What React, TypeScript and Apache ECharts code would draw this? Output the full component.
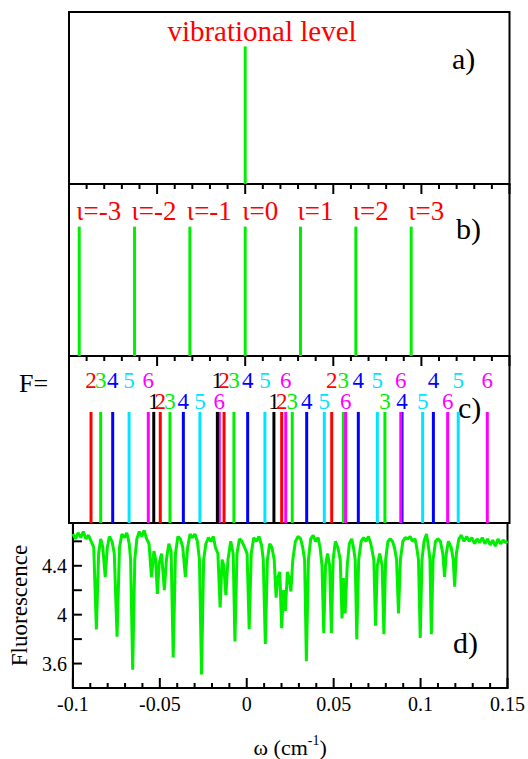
import React, { useEffect, useRef } from "react";
import * as echarts from "echarts";

// ---------- data ----------
const vibrationalLevel = [0];

const iotaPositions = [-0.0942, -0.0628, -0.0314, 0, 0.0314, 0.0628, 0.0942];
const iotaLabels = ["ι=-3", "ι=-2", "ι=-1", "ι=0", "ι=1", "ι=2", "ι=3"];

// F components (panel c): positions and label rows
const fBlack = [-0.0519, -0.0158, 0.0163];
const fBlackRows = [2, 1, 2];
const fRed = [-0.0875, -0.0482, -0.012, 0.0207, 0.0491];
const fRedRows = [1, 2, 1, 2, 1];
const fGreen = [-0.082, -0.0427, -0.0064, 0.0267, 0.0557, 0.0793];
const fGreenRows = [1, 2, 1, 2, 1, 2];
const fBlue = [-0.0752, -0.0351, 0.0014, 0.0349, 0.0642, 0.089, 0.1068];
const fBlueRows = [1, 2, 1, 2, 1, 2, 1];
const fCyan = [-0.0659, -0.0257, 0.0112, 0.0449, 0.075, 0.1007, 0.1209];
const fCyanRows = [1, 2, 1, 2, 1, 2, 1];
const fMagenta = [-0.055, -0.0147, 0.023, 0.057, 0.0883, 0.1149, 0.1374];
const fMagentaRows = [1, 2, 1, 2, 1, 2, 1];

// Fluorescence spectrum (panel d): [ω, fluorescence]
const spectrum: [number, number][] = [
  [-0.1, 4.66], [-0.0985, 4.62], [-0.097, 4.67], [-0.0955, 4.63], [-0.094, 4.68], [-0.0925, 4.62],
  [-0.091, 4.65], [-0.0895, 4.6], [-0.088, 4.55], [-0.0865, 3.88], [-0.0852, 4.5], [-0.084, 4.62],
  [-0.0828, 4.55], [-0.0814, 4.31], [-0.0802, 4.55], [-0.079, 4.64], [-0.0775, 4.6], [-0.0762, 4.5],
  [-0.0746, 3.82], [-0.0732, 4.55], [-0.0718, 4.66], [-0.0703, 4.63], [-0.069, 4.67], [-0.0676, 4.58],
  [-0.0668, 4.45], [-0.0656, 3.55], [-0.0644, 4.45], [-0.0632, 4.62], [-0.0618, 4.68], [-0.0604, 4.64],
  [-0.059, 4.69], [-0.0576, 4.62], [-0.0562, 4.58], [-0.0548, 4.31], [-0.0534, 4.52], [-0.0524, 4.45],
  [-0.0514, 4.17], [-0.0504, 4.42], [-0.049, 4.5], [-0.0474, 4.2], [-0.0462, 4.45], [-0.0448, 4.58],
  [-0.0435, 4.52], [-0.0423, 3.65], [-0.041, 4.5], [-0.0396, 4.64], [-0.0382, 4.62], [-0.0368, 4.55],
  [-0.0353, 4.31], [-0.034, 4.55], [-0.0326, 4.66], [-0.0312, 4.63], [-0.0298, 4.66], [-0.0284, 4.6],
  [-0.0272, 4.45], [-0.026, 3.51], [-0.0248, 4.45], [-0.0235, 4.58], [-0.022, 4.63], [-0.0206, 4.6],
  [-0.0192, 4.64], [-0.018, 4.55], [-0.0166, 4.5], [-0.0153, 4.06], [-0.0142, 4.45], [-0.0132, 4.4],
  [-0.012, 4.16], [-0.0108, 4.45], [-0.0092, 4.6], [-0.0078, 4.5], [-0.0068, 3.78], [-0.0056, 4.5],
  [-0.0042, 4.62], [-0.0028, 4.6], [-0.0012, 4.55], [0.0002, 4.5], [0.0014, 3.88], [0.0026, 4.5],
  [0.004, 4.63], [0.0055, 4.6], [0.007, 4.64], [0.0085, 4.57], [0.0095, 4.45], [0.0107, 3.76],
  [0.0119, 4.45], [0.0132, 4.58], [0.0145, 4.55], [0.0158, 4.45], [0.0169, 4.14], [0.0178, 4.3],
  [0.019, 4.35], [0.0201, 3.89], [0.0211, 4.2], [0.0222, 4.03], [0.0234, 4.35], [0.0244, 4.3],
  [0.0254, 4.19], [0.0265, 4.45], [0.028, 4.6], [0.0295, 4.64], [0.031, 4.62], [0.0322, 4.55],
  [0.0333, 4.45], [0.0343, 3.62], [0.0355, 4.45], [0.0368, 4.62], [0.0382, 4.65], [0.0396, 4.6],
  [0.041, 4.63], [0.0422, 4.55], [0.0433, 4.4], [0.0443, 3.85], [0.0453, 4.4], [0.0465, 4.5],
  [0.0477, 4.4], [0.0487, 3.85], [0.0497, 4.45], [0.051, 4.6], [0.0524, 4.55], [0.0538, 4.45],
  [0.0548, 3.97], [0.0556, 4.3], [0.0566, 4.01], [0.0578, 4.4], [0.059, 4.58], [0.0604, 4.62],
  [0.0614, 4.55], [0.0624, 4.45], [0.0633, 3.8], [0.0644, 4.45], [0.0658, 4.6], [0.0672, 4.63],
  [0.0686, 4.6], [0.07, 4.64], [0.0714, 4.58], [0.0731, 4.45], [0.0741, 3.91], [0.0751, 4.4],
  [0.0765, 4.5], [0.0779, 4.4], [0.0789, 3.84], [0.0799, 4.45], [0.0812, 4.6], [0.0826, 4.62],
  [0.0838, 4.6], [0.085, 4.55], [0.0862, 4.45], [0.0873, 4.01], [0.0884, 4.45], [0.0898, 4.6],
  [0.0912, 4.63], [0.0926, 4.62], [0.094, 4.64], [0.0954, 4.6], [0.0968, 4.62], [0.0978, 4.55],
  [0.0988, 4.45], [0.0998, 3.81], [0.1008, 4.45], [0.102, 4.6], [0.1034, 4.66], [0.1046, 4.55],
  [0.1054, 4.45], [0.1062, 3.84], [0.1072, 4.45], [0.1086, 4.6], [0.11, 4.62], [0.1114, 4.6],
  [0.1128, 4.5], [0.1138, 4.31], [0.1148, 4.5], [0.116, 4.6], [0.1176, 4.55], [0.1188, 4.45],
  [0.1196, 4.23], [0.1206, 4.5], [0.122, 4.62], [0.1235, 4.65], [0.125, 4.6], [0.1265, 4.64],
  [0.128, 4.6], [0.1295, 4.63], [0.131, 4.58], [0.1325, 4.62], [0.134, 4.59], [0.1355, 4.63],
  [0.137, 4.58], [0.1385, 4.62], [0.14, 4.57], [0.1415, 4.61], [0.143, 4.56], [0.1445, 4.62],
  [0.146, 4.58], [0.1475, 4.61], [0.149, 4.59], [0.15, 4.6],
];

// axis ticks
const xMajorTicks = [-0.1, -0.05, 0, 0.05, 0.1, 0.15];
const xMinorTicks = [
  -0.09, -0.08, -0.07, -0.06, -0.04, -0.03, -0.02, -0.01, 0.01, 0.02, 0.03, 0.04,
  0.06, 0.07, 0.08, 0.09, 0.11, 0.12, 0.13, 0.14,
];
const yTicksD = [3.6, 3.8, 4.0, 4.2, 4.4, 4.6];
const xTickLabels = ["-0.1", "-0.05", "0", "0.05", "0.1", "0.15"];
const yTickLabels = ["3.6", "4", "4.4"];

const X_MIN = -0.1;
const X_MAX = 0.15;
const YD_MIN = 3.4;
const YD_MAX = 4.75;

// ---------- styling ----------
const SERIF = "Liberation Serif";
const GREEN = "#00ee00";
const BLACK_LINE = { color: "#000", width: 2 };
const fGroups = [
  { pos: fBlack, rows: fBlackRows, color: "#000000", digit: "1" },
  { pos: fRed, rows: fRedRows, color: "#ff0000", digit: "2" },
  { pos: fGreen, rows: fGreenRows, color: GREEN, digit: "3" },
  { pos: fBlue, rows: fBlueRows, color: "#0000ff", digit: "4" },
  { pos: fCyan, rows: fCyanRows, color: "#00e5ff", digit: "5" },
  { pos: fMagenta, rows: fMagentaRows, color: "#ff00ff", digit: "6" },
];

// segments in data units: each item [x0, y0, x1, y1]
function segments(axisIndex: number, segs: number[][], color: string, width: number, z = 2) {
  return {
    type: "custom",
    xAxisIndex: axisIndex,
    yAxisIndex: axisIndex,
    z,
    silent: true,
    data: segs,
    encode: { x: [0, 2], y: [1, 3] },
    renderItem: (_p: any, api: any) => {
      const p0 = api.coord([api.value(0), api.value(1)]);
      const p1 = api.coord([api.value(2), api.value(3)]);
      return {
        type: "line",
        shape: { x1: p0[0], y1: p0[1], x2: p1[0], y2: p1[1] },
        style: { stroke: color, lineWidth: width },
      };
    },
  };
}

const vLines = (ai: number, xs: number[], y0: number, y1: number, color: string, width = 3, z = 2) =>
  segments(ai, xs.map((x) => [x, y0, x, y1]), color, width, z);

function textMarks(
  axisIndex: number,
  xs: number[],
  ys: number[],
  texts: string[],
  color: string,
  align: string,
  dx: number,
  size: number
) {
  return {
    type: "custom",
    xAxisIndex: axisIndex,
    yAxisIndex: axisIndex,
    z: 5,
    silent: true,
    data: xs.map((x, i) => [x, ys[i]]),
    encode: { x: 0, y: 1 },
    renderItem: (p: any, api: any) => {
      const c = api.coord([api.value(0), api.value(1)]);
      return {
        type: "text",
        x: c[0] + dx,
        y: c[1],
        style: {
          text: texts[p.dataIndex],
          fill: color,
          fontFamily: SERIF,
          fontSize: size,
          align,
          verticalAlign: "middle",
        },
      };
    },
  };
}

const ROW_Y: Record<number, number> = { 1: 0.856, 2: 0.725 };

export default function App() {
  const ref = useRef<HTMLDivElement>(null);

  useEffect(() => {
    document.body.style.margin = "0";
    const chart = echarts.init(ref.current!, null, { renderer: "svg" });

    const gridsPx = [
      { top: 12, height: 172 },
      { top: 184, height: 172 },
      { top: 356, height: 167 },
      { top: 523, height: 176 },
    ];
    const grid = gridsPx.map((g) => ({
      left: 69,
      right: 18.5,
      top: g.top,
      height: g.height,
      show: true,
      borderColor: "#000",
      borderWidth: 2,
      backgroundColor: "transparent",
    }));

    const xAx = (gridIndex: number, labels: boolean) => ({
      type: "value",
      gridIndex,
      position: "bottom",
      min: X_MIN,
      max: X_MAX,
      interval: 0.05,
      splitLine: { show: false },
      axisLine: { show: labels, onZero: false, lineStyle: BLACK_LINE },
      axisTick: { show: false },
      axisLabel: labels
        ? {
            show: true,
            margin: 6,
            color: "#000",
            fontFamily: SERIF,
            fontSize: 20,
            formatter: (v: number) => {
              const idx = Math.round((v - X_MIN) / 0.05);
              return xTickLabels[idx] ?? "";
            },
          }
        : { show: false },
    });

    const xAxis: any[] = [
      xAx(0, false),
      xAx(1, false),
      xAx(2, false),
      {
        ...xAx(3, true),
        name: "{a|ω (cm}{s|-1}{a|)}",
        nameLocation: "middle",
        nameGap: 40,
        nameTextStyle: {
          rich: {
            a: { fontFamily: SERIF, fontSize: 22, color: "#000", padding: [8, 0, 0, 0] },
            s: { fontFamily: SERIF, fontSize: 14, color: "#000", padding: [0, 0, 6, 0] },
          },
        },
      },
    ];

    const hiddenY = (gi: number) => ({ type: "value", gridIndex: gi, min: 0, max: 1, show: false });
    const yAxis: any[] = [
      hiddenY(0),
      hiddenY(1),
      hiddenY(2),
      {
        type: "value",
        gridIndex: 3,
        position: "left",
        min: YD_MIN,
        max: YD_MAX,
        interval: 0.2,
        splitLine: { show: false },
        axisLine: { show: true, onZero: false, lineStyle: BLACK_LINE },
        axisTick: { show: false },
        axisLabel: {
          color: "#000",
          fontFamily: SERIF,
          fontSize: 20,
          margin: 6,
          formatter: (v: number) => {
            const s = String(Math.round(v * 10) / 10);
            return yTickLabels.includes(s) ? s : "";
          },
        },
        name: "Fluorescence",
        nameLocation: "middle",
        nameGap: 37,
        nameTextStyle: { fontFamily: SERIF, fontSize: 23, color: "#000" },
      },
    ];

    const series: any[] = [];
    // panel a
    series.push(vLines(0, vibrationalLevel, 0, 0.8, GREEN));
    // panel b
    series.push(vLines(1, iotaPositions, 0, 0.752, GREEN));
    series.push(
      textMarks(1, iotaPositions, iotaPositions.map(() => 0.843), iotaLabels, "#ff0000", "left", -3, 27)
    );
    // panel c
    for (const g of fGroups) {
      series.push(vLines(2, g.pos, 0, 0.665, g.color, 3, g.color === "#000000" ? 3 : 2));
      series.push(
        textMarks(2, g.pos, g.rows.map((r) => ROW_Y[r]), g.pos.map(() => g.digit), g.color, "center", 0, 23)
      );
    }
    // panel d
    series.push({
      type: "line",
      xAxisIndex: 3,
      yAxisIndex: 3,
      data: spectrum,
      symbol: "none",
      lineStyle: { color: GREEN, width: 3 },
      silent: true,
    });

    const labelStyle = (text: string, x: number, y: number, size: number, color = "#000") => ({
      type: "text",
      x,
      y,
      style: { text, fill: color, fontFamily: SERIF, fontSize: size, align: "left", verticalAlign: "middle" },
    });

    const baseGraphic: any[] = [
      {
        type: "text",
        x: 262,
        y: 31,
        style: {
          text: "vibrational level",
          fill: "#ff0000",
          fontFamily: SERIF,
          fontSize: 29,
          align: "center",
          verticalAlign: "middle",
        },
      },
      labelStyle("a)", 452, 58, 30),
      labelStyle("b)", 456, 228, 30),
      labelStyle("c)", 458, 407, 30),
      labelStyle("d)", 453, 642, 30),
      labelStyle("F=", 19, 383, 26),
    ];

    chart.setOption({
      animation: false,
      backgroundColor: "#fff",
      grid,
      xAxis,
      yAxis,
      series,
      graphic: baseGraphic,
    });

    // tick marks placed through the axes' own scales (convertToPixel), drawn as small filled rects
    const ticks: any[] = [];
    const addX = (gi: number, values: number[], yEdge: number, len: number, down: boolean) => {
      for (const v of values) {
        const p = chart.convertToPixel({ gridIndex: gi }, [v, yEdge]) as number[];
        if (!p) continue;
        ticks.push({
          type: "rect",
          z: 100,
          silent: true,
          shape: { x: p[0] - 1, y: down ? p[1] : p[1] - len, width: 2, height: len },
          style: { fill: "#000" },
        });
      }
    };
    addX(1, xMajorTicks, 1, 10, true);
    addX(1, xMinorTicks, 1, 5, true);
    addX(2, xMajorTicks, 1, 10, true);
    addX(2, xMinorTicks, 1, 5, true);
    addX(3, xMajorTicks, YD_MIN, 10, false);
    addX(3, xMinorTicks, YD_MIN, 5, false);
    for (const v of yTicksD) {
      const p = chart.convertToPixel({ gridIndex: 3 }, [X_MIN, v]) as number[];
      if (!p) continue;
      ticks.push({
        type: "rect",
        z: 100,
        silent: true,
        shape: { x: p[0], y: p[1] - 1, width: 9, height: 2 },
        style: { fill: "#000" },
      });
    }
    chart.setOption({ graphic: [...baseGraphic, ...ticks] });

    return () => chart.dispose();
  }, []);

  return <div ref={ref} style={{ width: 528, height: 759 }} />;
}
